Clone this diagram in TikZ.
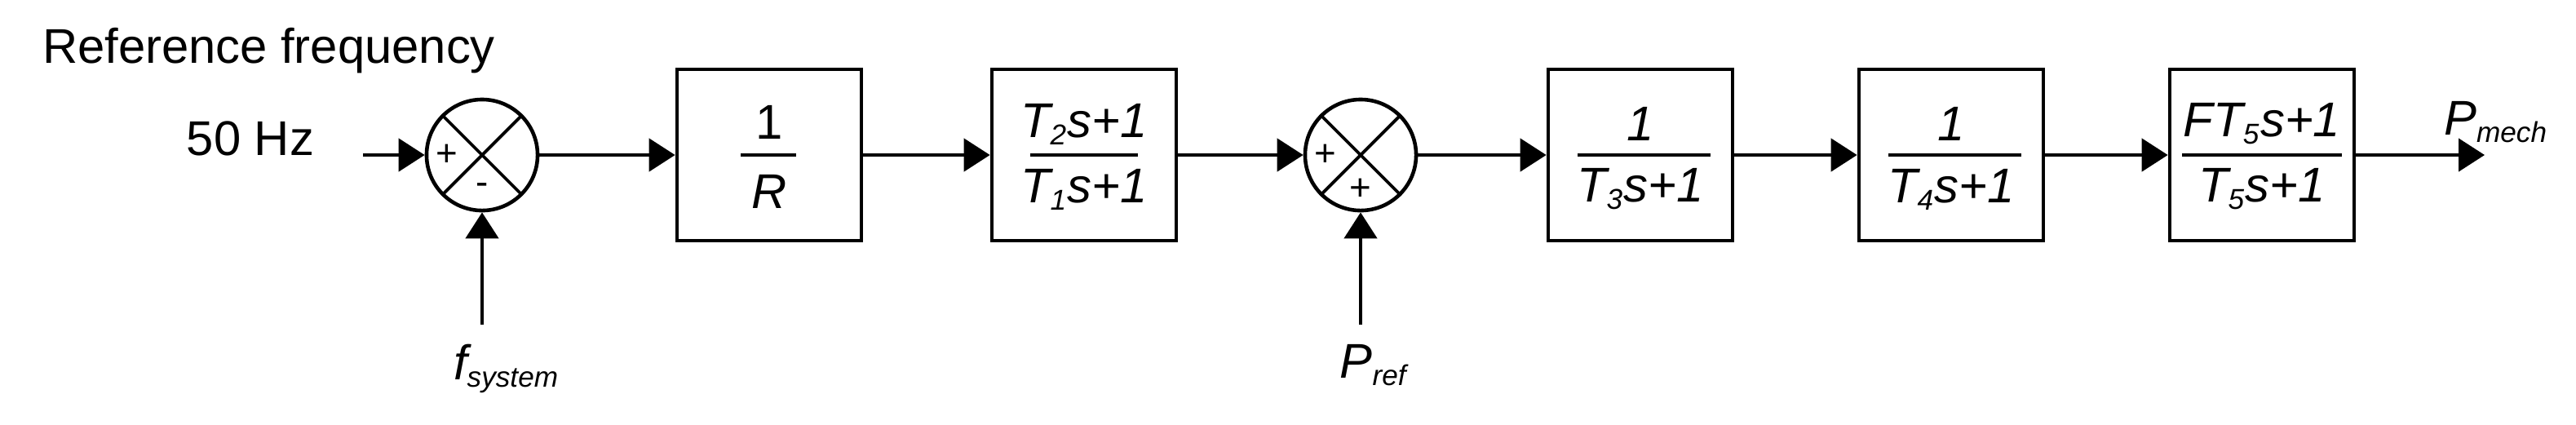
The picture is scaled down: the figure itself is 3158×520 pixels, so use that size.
\documentclass[tikz,border=0pt]{standalone}
\usepackage{fontspec}
\setmainfont{Liberation Sans}
\usetikzlibrary{arrows.meta}
\begin{document}
\begin{tikzpicture}[x=0.01cm,y=-0.01cm,
  line width=1.3pt,
  every node/.style={font=\fontsize{17}{20}\selectfont},
  blk/.style={draw,rectangle,minimum width=2.26cm,minimum height=2.1cm,inner sep=0pt},
  sum/.style={draw,circle,minimum size=1.36cm,inner sep=0pt},
  sig/.style={-{Triangle[length=0.32cm,width=0.4cm]}},
  lbl/.style={font=\fontsize{17}{20}\selectfont\itshape},
  sgn/.style={font=\fontsize{13}{15}\selectfont,inner sep=0pt}]
\useasboundingbox (0,0) rectangle (3158,520);
\newcommand{\sbs}[1]{\textsubscript{\fontsize{10}{12}\selectfont #1}}
% labels
\node[anchor=west] (title) at (38,62) {Reference frequency};
\node (hz) at (307,170) {50 Hz};
\coordinate (in) at (445,190);
% sum 1
\node[sum] (s1) at (591,190) {};
\draw[line width=1.1pt] (s1.45) -- (s1.225) (s1.135) -- (s1.-45);
\node[sgn] at (548,190) {+};
\node[sgn] at (591,232) {-};
% sum 2
\node[sum] (s2) at (1668,190) {};
\draw[line width=1.1pt] (s2.45) -- (s2.225) (s2.135) -- (s2.-45);
\node[sgn] at (1625,190) {+};
\node[sgn] at (1668,232) {+};
% boxes
\node[blk] (b1) at (943,190) {};
\node[blk] (b2) at (1329,190) {};
\node[blk] (b3) at (2011,190) {};
\node[blk] (b4) at (2392,190) {};
\node[blk] (b5) at (2773,190) {};
% fractions
\draw (908,190) -- (976,190);
\node (n1) at (943,150) {1};
\node[lbl] (d1) at (943,235) {R};
\draw (1263,190) -- (1395,190);
\node[lbl] (n2) at (1329,152) {T\sbs{2}s+1};
\node[lbl] (d2) at (1329,232) {T\sbs{1}s+1};
\draw (1934,190) -- (2097,190);
\node[lbl] (n3) at (2011,152) {1};
\node[lbl] (d3) at (2011,232) {T\sbs{3}s+1};
\draw (2315,190) -- (2478,190);
\node[lbl] (n4) at (2392,152) {1};
\node[lbl] (d4) at (2392,232) {T\sbs{4}s+1};
\draw (2675,190) -- (2871,190);
\node[lbl] (n5) at (2773,152) {FT\sbs{5}s+1};
\node[lbl] (d5) at (2773,232) {T\sbs{5}s+1};
% signals
\coordinate (out) at (3046,190);
\node[lbl] (pm) at (3060,150) {P\sbs{mech}};
\coordinate (fs) at (591,398);
\node[lbl] (fsl) at (621,452) {f\sbs{system}};
\coordinate (pr) at (1668,398);
\node[lbl] (prl) at (1684,448) {P\sbs{ref}};
\draw[sig] (in) -- (s1.west);
\draw[sig] (fs) -- (s1.south);
\draw[sig] (s1.east) -- (b1.west);
\draw[sig] (b1.east) -- (b2.west);
\draw[sig] (b2.east) -- (s2.west);
\draw[sig] (pr) -- (s2.south);
\draw[sig] (s2.east) -- (b3.west);
\draw[sig] (b3.east) -- (b4.west);
\draw[sig] (b4.east) -- (b5.west);
\draw[sig] (b5.east) -- (out);
\end{tikzpicture}
\end{document}
